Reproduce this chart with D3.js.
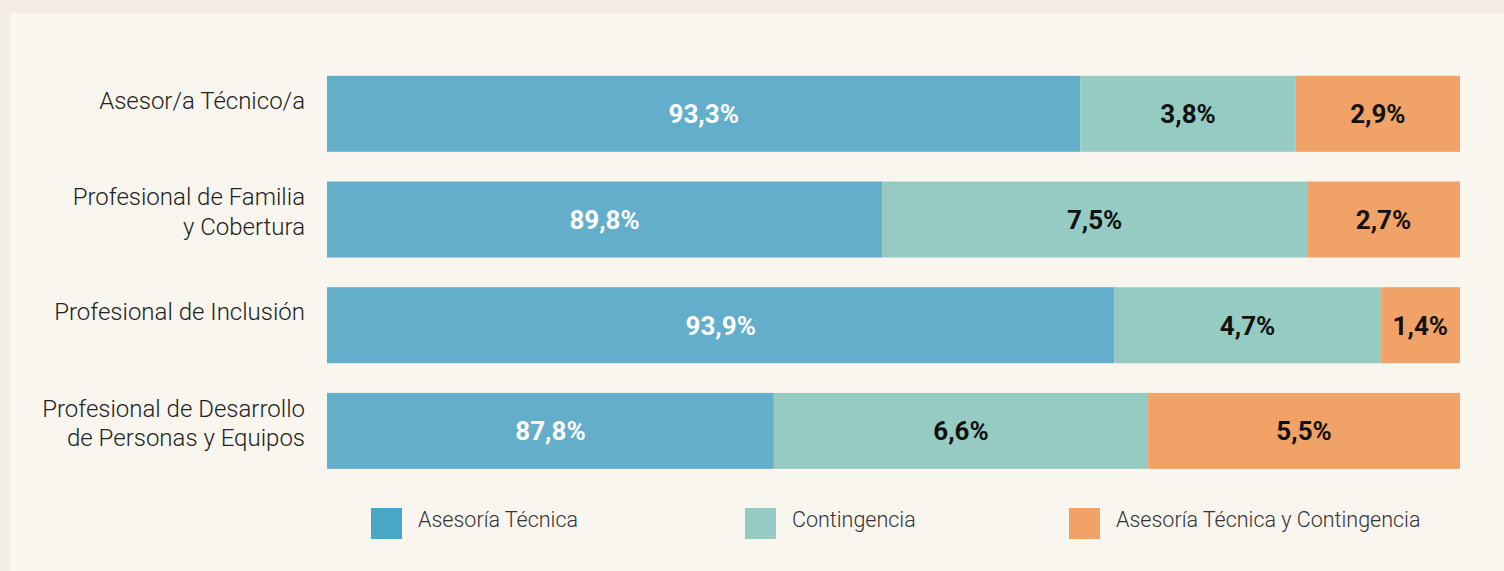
<!DOCTYPE html>
<html lang="es">
<head>
<meta charset="utf-8">
<script src="https://cdn.jsdelivr.net/npm/d3@7"></script>
<style>
  html, body { margin: 0; padding: 0; background: #f2ece2; }
  svg { display: block; }
  .cat { font-family: Roboto, "Noto Sans", sans-serif; font-weight: 300; font-size: 24px; fill: #222; }
  .val { font-family: Roboto, "Noto Sans", sans-serif; font-weight: 700; font-size: 26px; }
  .leg { font-family: Roboto, "Noto Sans", sans-serif; font-weight: 300; font-size: 21.5px; fill: #333; }
</style>
</head>
<body>
<svg id="chart" width="1504" height="571"></svg>
<script>
// Roles (one line per array entry) and answer shares, in percent
const categories = [
  ["Asesor/a Técnico/a"],
  ["Profesional de Familia", "y Cobertura"],
  ["Profesional de Inclusión"],
  ["Profesional de Desarrollo", "de Personas y Equipos"]
];
const seriesNames = ["Asesoría Técnica", "Contingencia", "Asesoría Técnica y Contingencia"];
const asesoriaTecnica = [93.3, 89.8, 93.9, 87.8];
const contingencia = [3.8, 7.5, 4.7, 6.6];
const ambas = [2.9, 2.7, 1.4, 5.5];

const barColors = ["#63aecb", "#95cbc2", "#f1a267"];
const legendColors = ["#49a6c4", "#95cbc2", "#f1a267"];
const labelColors = ["#ffffff", "#111111", "#111111"];

const svg = d3.select("#chart");

// panel
svg.append("rect").attr("x", 10).attr("y", 13).attr("width", 1494).attr("height", 558).attr("fill", "#f9f6ef");

const rows = categories.map((c, i) => ({
  key: i,
  lines: c,
  [seriesNames[0]]: asesoriaTecnica[i],
  [seriesNames[1]]: contingencia[i],
  [seriesNames[2]]: ambas[i]
}));

// each row is normalised to 100 % so rounding does not leave a gap at the end
const stacked = d3.stack().keys(seriesNames).offset(d3.stackOffsetExpand)(rows);

// The value axis starts at 80 %, so the first segment is cut at the left edge
const x = d3.scaleLinear().domain([0.8, 1]).range([327, 1460]).clamp(true);
const y = d3.scaleBand().domain(rows.map(r => r.key)).range([61, 483.7])
  .paddingInner(0.281).paddingOuter(0.14);

const fmt = v => d3.format(".1f")(v).replace(".", ",") + "%";

const layers = svg.append("g").selectAll("g").data(stacked).join("g")
  .attr("fill", (d, i) => barColors[i]);

layers.selectAll("rect").data(d => d).join("rect")
  .attr("x", d => x(d[0]))
  .attr("y", (d, i) => y(i))
  .attr("width", d => x(d[1]) - x(d[0]))
  .attr("height", y.bandwidth());

layers.each(function (layer, li) {
  const key = layer.key;
  d3.select(this).selectAll("text").data(layer).join("text")
    .attr("class", "val")
    .attr("x", d => (x(d[0]) + x(d[1])) / 2)
    .attr("y", (d, i) => y(i) + y.bandwidth() / 2)
    .attr("dy", "0.36em")
    .attr("text-anchor", "middle")
    .attr("fill", labelColors[li])
    .text(d => fmt(d.data[key]));
});

// category labels, right aligned against the bars
const catG = svg.append("g");
rows.forEach((r, i) => {
  const cy = y(i) + y.bandwidth() / 2;
  const t = catG.append("text").attr("class", "cat").attr("text-anchor", "end");
  if (r.lines.length === 1) {
    t.append("tspan").attr("x", 305).attr("y", cy - 5).text(r.lines[0]);
  } else {
    r.lines.forEach((ln, k) => {
      t.append("tspan").attr("x", 305).attr("y", cy - 14 + k * 29.5).text(ln);
    });
  }
});

// legend
const legendX = [371, 745, 1069];
const leg = svg.append("g").selectAll("g").data(seriesNames).join("g")
  .attr("transform", (d, i) => `translate(${legendX[i]},508)`);
leg.append("rect").attr("width", 31).attr("height", 31).attr("fill", (d, i) => legendColors[i]);
leg.append("text").attr("class", "leg").attr("x", 47).attr("y", 19).text(d => d);
</script>
</body>
</html>
